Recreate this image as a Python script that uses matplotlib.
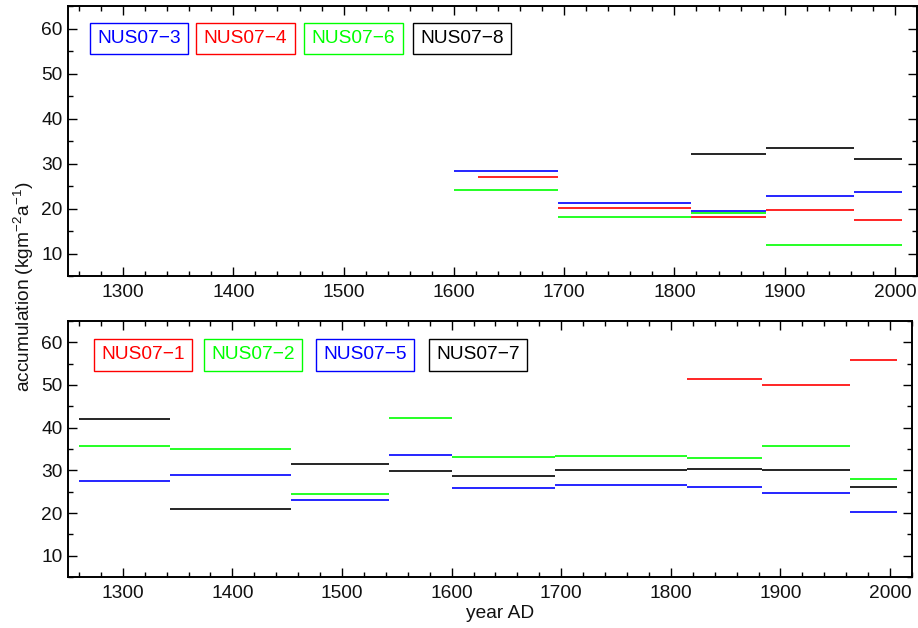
import matplotlib
matplotlib.use("Agg")
import matplotlib.pyplot as plt
from matplotlib.ticker import MultipleLocator

plt.rcParams['font.family'] = ['Liberation Sans', 'DejaVu Sans']
plt.rcParams['mathtext.fontset'] = 'custom'
plt.rcParams['mathtext.rm'] = 'Liberation Sans'
plt.rcParams['mathtext.it'] = 'Liberation Sans'
plt.rcParams['mathtext.bf'] = 'Liberation Sans:bold'
plt.rcParams['mathtext.default'] = 'regular'

# ---------------- data ----------------
# Top panel: segments (start year, end year, value)
nus07_3 = [(1600, 1694, 28.4), (1694, 1815, 21.3), (1815, 1883, 19.4), (1883, 1963, 22.7), (1963, 2006, 23.7)]
nus07_4 = [(1622, 1694, 26.9), (1694, 1815, 20.2), (1815, 1883, 18.2), (1883, 1963, 19.6), (1963, 2006, 17.5)]
nus07_6 = [(1600, 1694, 24.2), (1694, 1815, 18.1), (1815, 1883, 18.9), (1883, 2006, 12.0)]
nus07_8 = [(1815, 1883, 32.1), (1883, 1963, 33.5), (1963, 2006, 31.0)]

# Bottom panel
nus07_1 = [(1815, 1883, 51.3), (1883, 1963, 49.9), (1963, 2006, 55.9)]
nus07_2 = [(1260, 1343, 35.6), (1343, 1453, 35.0), (1453, 1543, 24.5), (1543, 1600, 42.3),
           (1600, 1694, 33.2), (1694, 1815, 33.3), (1815, 1883, 33.0), (1883, 1963, 35.7), (1963, 2006, 28.0)]
nus07_5 = [(1260, 1343, 27.4), (1343, 1453, 28.8), (1453, 1543, 23.1), (1543, 1600, 33.5),
           (1600, 1694, 25.8), (1694, 1815, 26.5), (1815, 1883, 26.0), (1883, 1963, 24.6), (1963, 2006, 20.2)]
nus07_7 = [(1260, 1343, 42.0), (1343, 1453, 21.0), (1453, 1543, 31.6), (1543, 1600, 29.8),
           (1600, 1694, 28.7), (1694, 1815, 30.0), (1815, 1883, 30.4), (1883, 1963, 30.1), (1963, 2006, 26.2)]

top_series = [("NUS07\u22123", nus07_3, "#0000ff"), ("NUS07\u22124", nus07_4, "#ff0000"),
              ("NUS07\u22126", nus07_6, "#00ff00"), ("NUS07\u22128", nus07_8, "#000000")]
bot_series = [("NUS07\u22121", nus07_1, "#ff0000"), ("NUS07\u22122", nus07_2, "#00ff00"),
              ("NUS07\u22125", nus07_5, "#0000ff"), ("NUS07\u22127", nus07_7, "#000000")]

x_ticks = [1300, 1400, 1500, 1600, 1700, 1800, 1900, 2000]
y_ticks = [10, 20, 30, 40, 50, 60]

# ---------------- layout ----------------
W, H = 918, 628
fig = plt.figure(figsize=(W / 100, H / 100), dpi=100)

def px_axes(l, t, r, b):
    return fig.add_axes([l / W, 1 - b / H, (r - l) / W, (b - t) / H])

ax_top = px_axes(68, 6, 917, 276)
ax_bot = px_axes(68, 321, 912, 577)

FS = 13.8

def style(ax):
    ax.set_xlim(1250, 2020)
    ax.set_ylim(5, 65)
    ax.set_xticks(x_ticks)
    ax.set_yticks(y_ticks)
    ax.xaxis.set_minor_locator(MultipleLocator(20))
    ax.yaxis.set_minor_locator(MultipleLocator(5))
    ax.tick_params(which='both', direction='in', top=True, right=True, width=1.0, color='black',
                   labelsize=FS, labelcolor='#111111')
    ax.tick_params(which='major', length=6.5)
    ax.tick_params(which='minor', length=3.3)
    ax.tick_params(axis='x', pad=6)
    ax.tick_params(axis='y', pad=4)
    for s in ax.spines.values():
        s.set_linewidth(1.4)

def draw(ax, series):
    for name, segs, col in series:
        for x0, x1, v in segs:
            ax.hlines(v, x0, x1, colors=col, linewidth=1.2)

style(ax_top)
style(ax_bot)
draw(ax_top, top_series)
draw(ax_bot, bot_series)

# legend boxes (pixel centres)
top_centres = [139, 245.5, 353.5, 462]
bot_centres = [143, 253, 365.3, 478]

def boxes(ax, series, centres, yc, l, t, r, b):
    for (name, segs, col), xc in zip(series, centres):
        ax.text((xc - l) / (r - l), (b - yc) / (b - t), name, transform=ax.transAxes,
                ha='center', va='center', fontsize=FS, color=col,
                bbox=dict(boxstyle='square,pad=0.38', facecolor='white', edgecolor=col, linewidth=1.0))

boxes(ax_top, top_series, top_centres, 38.5, 68, 6, 917, 276)
boxes(ax_bot, bot_series, bot_centres, 355, 68, 321, 912, 577)

fig.text(24 / W, 1 - 287 / H, "accumulation (kgm$^{-2}$a$^{-1}$)", rotation=90,
         ha='center', va='center', fontsize=FS, color='#111111')
fig.text(500 / W, 1 - 613 / H, "year AD", ha='center', va='center', fontsize=FS, color='#111111')

fig.savefig("out.png", dpi=100)
